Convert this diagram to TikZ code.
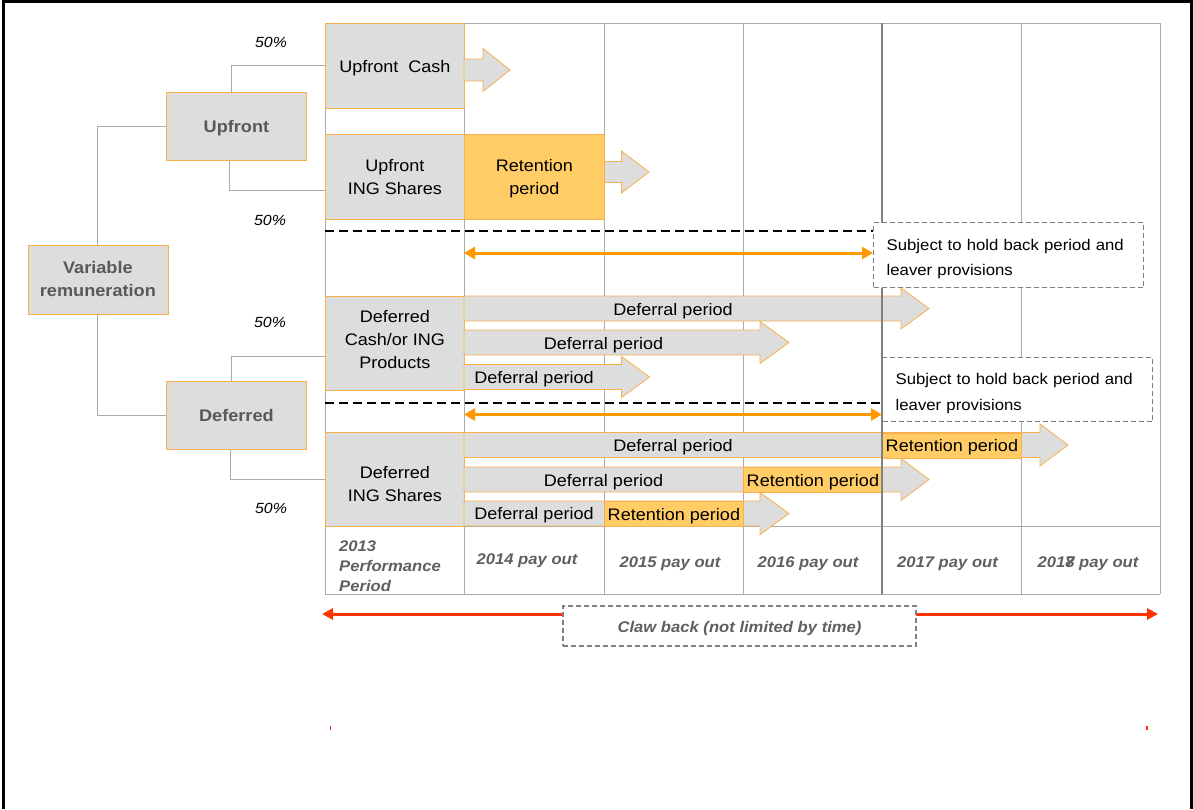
\documentclass[tikz,border=0pt]{standalone}
\usepackage{fontspec}
\setmainfont{Liberation Sans}[FakeStretch=1.08]
\usetikzlibrary{arrows.meta}
\definecolor{boxgray}{RGB}{221,221,221}
\definecolor{boxorange}{RGB}{248,176,76}
\definecolor{retfill}{RGB}{255,204,102}
\definecolor{arrorange}{RGB}{255,153,0}
\definecolor{clawred}{RGB}{255,51,0}
\definecolor{gridgray}{RGB}{170,170,170}
\definecolor{darkgrid}{RGB}{128,128,128}
\definecolor{txtgray}{RGB}{89,89,89}
\definecolor{labgray}{RGB}{95,95,95}
\definecolor{dashgray}{RGB}{128,128,128}
\newcommand\fsBox{\fontsize{16.7pt}{23pt}\selectfont}
\newcommand\fsTree{\fontsize{16.8pt}{23pt}\selectfont\bfseries}
\newcommand\fsLab{\fontsize{15.4pt}{20pt}\selectfont\bfseries\itshape}
\newcommand\fsNote{\fontsize{15.5pt}{25.5pt}\selectfont}
\newcommand\fsPct{\fontsize{14.7pt}{17pt}\selectfont\itshape}
\newcommand\sd[1]{\rule{0pt}{#1}}
\newcommand\blkarrow[6]{%
  \filldraw[arrshape] (#1,#2) -- (#4,#2) -- (#4,{#2-#6}) -- (#5,{(#2+#3)/2}) -- (#4,{#3+#6}) -- (#4,#3) -- (#1,#3) -- cycle;}
\begin{document}
\begin{tikzpicture}[x=1pt,y=-1pt,
  box/.style={draw=boxorange, fill=boxgray, line width=0.8pt, inner sep=0pt, anchor=north west, align=center, font=\fsBox, text=black},
  treebox/.style={box, font=\fsTree, text=txtgray},
  retbox/.style={draw=boxorange, fill=retfill, line width=0.8pt, inner sep=0pt, anchor=north west, align=center, font=\fsBox, text=black},
  arrshape/.style={draw=boxorange, fill=boxgray, line width=0.8pt, line join=miter},
  gridline/.style={draw=gridgray, line width=1pt},
  conn/.style={draw=gridgray, line width=1pt},
  blackdash/.style={draw=black, line width=1.6pt, dash pattern=on 9pt off 5pt},
  notebox/.style={draw=dashgray, dash pattern=on 5pt off 3pt, line width=1.4pt, fill=white, anchor=north west, inner ysep=0pt, inner xsep=13pt, align=left, font=\fsNote, text=black},
  orarrow/.style={draw=arrorange, line width=3pt, {Triangle[length=11pt,width=12pt]}-{Triangle[length=11pt,width=12pt]}},
  clawarrow/.style={draw=clawred, line width=3pt, {Triangle[length=11pt,width=11pt]}-{Triangle[length=11pt,width=11pt]}},
  lab/.style={font=\fsLab, text=labgray, inner sep=0pt},
  pct/.style={font=\fsPct, inner sep=0pt},
  lbl/.style={font=\fsBox, inner sep=0pt, text=black}]
\useasboundingbox (0,0) rectangle (1193,809);
% frame
\draw[line width=3pt] (3,809) -- (3,1.5) -- (1191,1.5) -- (1191,809);
% grid
\foreach \x in {325,464,604,743,1021,1160} \draw[gridline] (\x,23) -- (\x,594);
\draw[gridline] (325,23) -- (1160,23);
\draw[gridline] (325,526) -- (1160,526);
\draw[gridline] (325,594) -- (1160,594);
% left boxes
\node[box, minimum width=139, minimum height=85] (uc) at (325,23) {\sd{16.2pt}Upfront\ \ Cash};
\node[box, minimum width=139, minimum height=85] (ui) at (325,134) {\sd{13.2pt}Upfront\\ING Shares};
\node[box, minimum width=139, minimum height=94] (dc) at (325,296) {Deferred\\Cash/or ING\\Products\rule[-7.5pt]{0pt}{0pt}};
\node[box, minimum width=139, minimum height=94] (ds) at (325,432) {\sd{22.2pt}Deferred\\ING Shares};
% tree
\node[treebox, minimum width=140, minimum height=69] (vr) at (27.5,244.5) {Variable\\remuneration};
\node[treebox, minimum width=140, minimum height=68] (up) at (166,92) {\sd{16.3pt}Upfront};
\node[treebox, minimum width=140, minimum height=68] (de) at (166,381) {Deferred};
\draw[conn] (vr.north) |- (up.west);
\draw[conn] (vr.south) |- (de.west);
\draw[conn] ([xshift=-4.5pt]up.north) |- (uc.west);
\draw[conn] ([xshift=-6.5pt]up.south) |- ([yshift=-13.5pt]ui.west);
\draw[conn] ([xshift=-4.7pt]de.north) |- ([yshift=-13.3pt]dc.west);
\draw[conn] ([xshift=-6.3pt]de.south) |- (ds.west);
\node[pct] (p1) at (271,42) {50\%};
\node[pct] (p2) at (270,220) {50\%};
\node[pct] (p3) at (270,322) {50\%};
\node[pct] (p4) at (271,508) {50\%};
% block arrows
\blkarrow{464}{59}{81}{483}{510}{10.5}
\blkarrow{604}{161.5}{182.5}{621.5}{649}{10.5}
\node[retbox, minimum width=140, minimum height=85] (r0) at (464,134) {\sd{16.2pt}Retention\\period};
\blkarrow{464}{296}{321}{901}{929}{8}
\blkarrow{464}{330}{355}{760}{789}{8.5}
\blkarrow{464}{364.5}{389.5}{621.5}{649.5}{8}
\node[lbl] (d1) at (673,311) {Deferral period};
\node[lbl] (d2) at (603.5,345) {Deferral period};
\node[lbl] (d3) at (534,379.5) {Deferral period};
\blkarrow{464}{432.5}{457.5}{1040}{1068}{8.5}
\blkarrow{464}{467}{492}{901}{929}{8.5}
\blkarrow{464}{501}{526}{760}{789}{8.5}
\node[retbox, minimum width=139, minimum height=25] (r1) at (882,432.5) {\sd{16.2pt}Retention period};
\node[retbox, minimum width=139, minimum height=25] (r2) at (743,467) {\sd{16.2pt}Retention period};
\node[retbox, minimum width=139, minimum height=25] (r3) at (604,501) {\sd{16.2pt}Retention period};
\node[lbl] (s1) at (673,447) {Deferral period};
\node[lbl] (s2) at (603.5,482) {Deferral period};
\node[lbl] (s3) at (534,515.5) {Deferral period};
% darker column line
\draw[draw=darkgrid, line width=1.5pt] (882,23) -- (882,594);
% hold back notes
\node[notebox, minimum width=270, minimum height=65, text width=244pt] (hb1) at (873,222) {\sd{18.8pt}Subject to hold back period and\\leaver provisions};
\node[notebox, minimum width=270, minimum height=64, text width=244pt] (hb2) at (882,357) {\sd{18.8pt}Subject to hold back period and\\leaver provisions};
\coordinate (dl1) at (325,231);
\coordinate (dl2) at (325,403);
\draw[blackdash] (dl1) -- (dl1 -| hb1.west);
\draw[blackdash] (dl2) -- (dl2 -| hb2.west);
\coordinate (oa1) at (464,253);
\coordinate (oa2) at (464,414.5);
\draw[orarrow] (oa1) -- (oa1 -| hb1.west);
\draw[orarrow] (oa2) -- (oa2 -| hb2.west);
% bottom labels
\node[lab, anchor=west, align=left] (y13) at (339,566) {2013\\Performance\\Period};
\node[lab] (y14) at (527,560.5) {2014 pay out};
\node[lab] (y15) at (670,563.5) {2015 pay out};
\node[lab] (y16) at (808,563.5) {2016 pay out};
\node[lab] (y17) at (947.5,563.5) {2017 pay out};
\node[lab] (y18) at (1088,563.5) {201\makebox[0pt][l]{7}8 pay out};
% claw back
\coordinate (cwL) at (322,614);
\coordinate (cwR) at (1158,614);
\draw[clawarrow] (cwL) -- (cwR);
\node[notebox, anchor=center, align=center, font=\fsLab, text=labgray, minimum width=353, minimum height=40, inner xsep=0pt] (claw) at (739.5,626) {\sd{16.2pt}Claw back (not limited by time)};
% small red marks
\fill[clawred] (329.5,726) rectangle (331,730);
\fill[clawred] (1146,726) rectangle (1148,730);
\end{tikzpicture}
\end{document}
